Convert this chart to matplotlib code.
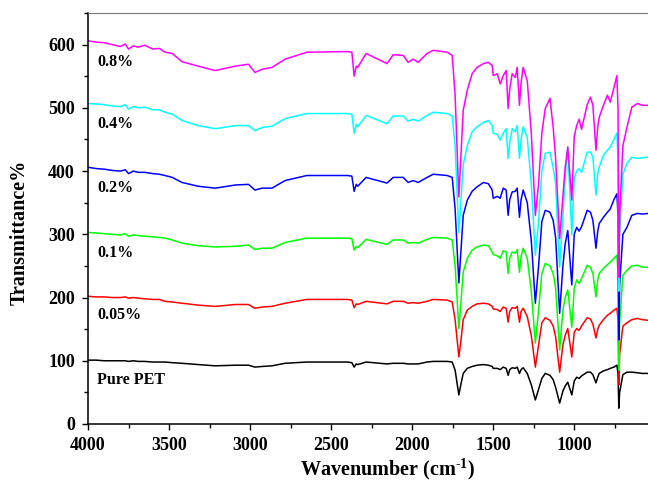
import numpy as np
import matplotlib
matplotlib.use("Agg")
import matplotlib.pyplot as plt
from matplotlib.ticker import MultipleLocator

plt.rcParams['font.family'] = ['Liberation Serif', 'DejaVu Serif']
plt.rcParams['font.weight'] = 'bold'
plt.rcParams['mathtext.fontset'] = 'custom'
plt.rcParams['mathtext.rm'] = 'Liberation Serif:bold'

# wavenumber grid (cm-1) at the visible features
wavenumber = [4000, 3950, 3900, 3850, 3800, 3770, 3750, 3720, 3690, 3650,
              3600, 3560, 3525, 3480, 3420, 3320, 3215, 3090, 3010, 2970,
              2925, 2865, 2784, 2650, 2400, 2372, 2358, 2345, 2336, 2284,
              2155, 2117, 2055, 2025, 1994, 1963, 1908, 1870, 1784,
              1753, 1735, 1712, 1700, 1685, 1660, 1630, 1600, 1560, 1530,
              1506, 1500, 1475, 1457, 1438, 1420, 1408, 1398, 1383, 1364,
              1352, 1338, 1328, 1315, 1290, 1265, 1240, 1220, 1200, 1179,
              1150, 1130, 1115, 1090, 1070, 1056, 1040, 1015, 1000, 985,
              970, 955, 920, 900, 885, 866, 855, 846, 820, 795,
              778, 755, 737, 730, 725, 720, 700, 675, 645, 610,
              580, 545]

pure_pet = [101, 101, 100, 100, 100, 100, 99, 100, 99, 99,
            98, 98, 98, 97, 96, 94, 92, 93, 93, 90,
            91, 92, 96, 98, 98, 97, 90, 95, 94, 98,
            95, 96, 96, 95, 95, 95, 98, 99, 99,
            98, 85, 46, 62, 80, 88, 91, 93, 94, 93,
            91, 88, 88, 86, 90, 88, 77, 86, 89, 88,
            90, 80, 86, 89, 80, 62, 38, 55, 72, 80,
            77, 70, 58, 33, 52, 60, 66, 46, 68, 74,
            72, 76, 82, 82, 78, 65, 74, 80, 84, 86,
            88, 90, 93, 80, 25, 50, 78, 82, 82, 81,
            80, 80]

pet_005 = [202, 201, 201, 200, 200, 201, 199, 200, 199, 198,
           197, 197, 194, 193, 191, 188, 186, 189, 189, 183,
           185, 186, 191, 197, 197, 196, 184, 190, 189, 194,
           190, 194, 194, 191, 192, 191, 194, 197, 196,
           193, 165, 106, 130, 165, 180, 186, 190, 191, 190,
           186, 182, 181, 178, 185, 183, 161, 178, 184, 183,
           186, 161, 178, 183, 170, 140, 90, 125, 160, 168,
           164, 155, 138, 82, 125, 140, 151, 106, 145, 151,
           148, 155, 168, 166, 158, 136, 150, 156, 165, 172,
           175, 180, 183, 165, 62, 110, 155, 160, 165, 167,
           165, 164]

pet_01 = [303, 302, 301, 300, 299, 301, 297, 299, 298, 297,
          296, 295, 294, 291, 286, 282, 280, 281, 283, 276,
          278, 278, 287, 294, 294, 293, 275, 281, 279, 292,
          284, 291, 291, 286, 287, 286, 292, 295, 294,
          291, 250, 151, 190, 240, 262, 275, 280, 283, 282,
          272, 268, 266, 262, 274, 272, 238, 262, 272, 270,
          276, 240, 265, 278, 262, 210, 128, 180, 238, 254,
          250, 238, 215, 117, 180, 200, 212, 153, 215, 228,
          222, 230, 251, 248, 238, 201, 228, 238, 246, 252,
          256, 262, 267, 240, 85, 160, 235, 243, 250, 251,
          248, 248]

pet_02 = [406, 404, 403, 401, 400, 402, 396, 400, 398, 398,
          396, 395, 393, 390, 382, 376, 373, 378, 379, 370,
          373, 373, 385, 393, 393, 392, 368, 379, 376, 390,
          381, 390, 390, 382, 385, 382, 390, 395, 393,
          390, 340, 223, 270, 330, 354, 368, 375, 382, 380,
          370, 357, 360, 357, 373, 370, 330, 355, 367, 368,
          373, 327, 355, 370, 350, 290, 191, 250, 320, 338,
          335, 322, 295, 175, 250, 285, 306, 220, 300, 311,
          305, 312, 338, 335, 322, 278, 305, 317, 327, 335,
          340, 355, 364, 330, 133, 220, 300, 311, 330, 333,
          332, 333]

pet_04 = [507, 506, 505, 503, 502, 505, 498, 502, 500, 501,
          497, 497, 493, 490, 480, 472, 467, 472, 472, 464,
          469, 471, 483, 491, 491, 490, 460, 474, 470, 488,
          475, 487, 487, 479, 482, 479, 488, 493, 491,
          487, 440, 303, 350, 410, 440, 462, 470, 477, 480,
          472, 460, 458, 449, 460, 467, 420, 445, 467, 462,
          472, 420, 450, 470, 453, 380, 267, 320, 400, 428,
          430, 405, 380, 248, 330, 390, 438, 299, 390, 400,
          404, 398, 430, 430, 422, 362, 395, 406, 425, 433,
          438, 450, 460, 420, 210, 300, 395, 412, 422, 420,
          421, 422]

pet_08 = [606, 604, 603, 600, 597, 601, 593, 598, 596, 599,
          593, 594, 588, 586, 573, 566, 559, 566, 569, 556,
          561, 564, 577, 588, 589, 588, 550, 566, 564, 586,
          570, 584, 583, 572, 577, 572, 586, 591, 588,
          583, 520, 359, 420, 496, 528, 554, 564, 570, 572,
          567, 551, 554, 538, 551, 559, 499, 530, 554, 548,
          564, 504, 540, 564, 543, 460, 330, 380, 460, 499,
          515, 469, 420, 293, 360, 406, 438, 354, 455, 472,
          482, 466, 505, 517, 504, 433, 470, 485, 504, 520,
          509, 532, 551, 500, 232, 330, 440, 469, 501, 507,
          504, 504]

series = [pure_pet, pet_005, pet_01, pet_02, pet_04, pet_08]
labels = ['Pure PET', '0.05%', '0.1%', '0.2%', '0.4%', '0.8%']
colors = ['black', '#FF0000', '#00FF00', '#0000FF', '#00FFFF', '#FF00FF']
label_y = [70, 172, 270, 374, 474, 573]

fig = plt.figure(figsize=(6.48, 4.92), dpi=100)
ax = fig.add_axes([88 / 648, 68 / 492, 560 / 648, 411 / 492])

# black first so the coloured spectra sit on top at the 725 band
for vals, col in zip(series, colors):
    ax.plot(wavenumber, vals, color=col, linewidth=1.1)

for lab, ly in zip(labels, label_y):
    ax.text(3945, ly, lab, fontsize=11.5, fontweight='bold', va='center', ha='left')

ax.set_xlim(4000, 545)
ax.set_ylim(0, 650)
ax.xaxis.set_major_locator(MultipleLocator(500))
ax.xaxis.set_minor_locator(MultipleLocator(250))
ax.yaxis.set_major_locator(MultipleLocator(100))
ax.yaxis.set_minor_locator(MultipleLocator(50))
ax.tick_params(which='major', direction='out', length=4.5, width=1, labelsize=13, pad=5)
ax.tick_params(which='minor', direction='out', length=3, width=1)
ax.tick_params(top=False, right=False)
for lbl in ax.get_xticklabels() + ax.get_yticklabels():
    lbl.set_fontweight('bold')

ax.spines['right'].set_visible(False)
ax.spines['top'].set_color('#777777')
ax.spines['left'].set_linewidth(1.1)
ax.spines['bottom'].set_linewidth(1.1)

ax.set_xlabel(r'Wavenumber (cm$^{\text{-1}}$)', fontsize=14.5, fontweight='bold', va='center')
ax.xaxis.set_label_coords((388 - 88) / 560, -(469 - 424) / 411)
ax.set_ylabel('Transmittance%', fontsize=14.5, fontweight='bold', va='center')
ax.yaxis.set_label_coords((20 - 88) / 560, (424 - 232) / 411)

fig.savefig('out.png', dpi=100)
